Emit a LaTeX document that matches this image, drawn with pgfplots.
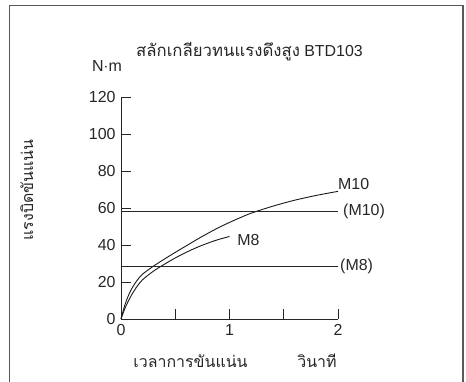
\documentclass[border=0pt]{standalone}
\usepackage{pgfplots}
\pgfplotsset{compat=1.18}
\usepackage{fontspec}
\setmainfont{Liberation Sans}
\newfontfamily\thaifont[Script=Thai]{Loma}
\begin{document}
\fontsize{16}{19}\selectfont
\begin{tikzpicture}[font=\fontsize{16}{19}\selectfont]
\useasboundingbox (0,0) rectangle (466bp,382bp);
\draw[line width=1.2bp, color=black!65] (9.5bp,-2bp) -- (9.5bp,376.5bp) -- (463bp,376.5bp) -- (463bp,-2bp);
\begin{axis}[
  at={(121bp,63bp)}, anchor=south west,
  scale only axis, width=217bp, height=222bp,
  xmin=0, xmax=2, ymin=0, ymax=120,
  axis lines=left, axis line style={-, line width=0.9bp, black!85},
  xtick={0,0.5,1,1.5,2}, xticklabels={0,,1,,2},
  ytick={0,20,40,60,80,100,120},
  tick align=inside, major tick length=10bp,
  every tick/.style={line width=0.9bp, black!85},
  tick label style={font=\fontsize{16}{19}\selectfont, black!85},
  /pgf/number format/assume math mode=true,
  clip=false,
]
% M10
\addplot[line width=0.9bp, black!90, smooth] coordinates {
(0,0) (0.03,6.5) (0.06,11.5) (0.1,16.5) (0.15,21) (0.2,24.3) (0.3,28.6) (0.4,32.4) (0.5,36) (0.6,39.5) (0.7,43) (0.8,46.3) (0.9,49.4) (1.0,52.2) (1.1,54.8) (1.2,57.2) (1.4,61.0) (1.6,64.2) (1.8,66.8) (2.0,69)
};
% M8
\addplot[line width=0.9bp, black!90, smooth] coordinates {
(0,0) (0.03,4.8) (0.06,8.8) (0.1,13.2) (0.15,17.8) (0.2,21.3) (0.3,25.9) (0.4,29.6) (0.5,33) (0.6,36) (0.7,38.7) (0.8,41) (0.9,43) (1.0,44.6)
};
\addplot[line width=0.9bp, black!85] coordinates {(0,58) (2,58)};
\addplot[line width=0.9bp, black!85] coordinates {(0,28.3) (2,28.3)};
\node[anchor=west, inner sep=0pt, black!85] at (axis cs:2,73) {M10};
\node[anchor=west, inner sep=0pt, black!85, xshift=5bp] at (axis cs:2,58) {(M10)};
\node[anchor=west, inner sep=0pt, black!85] at (axis cs:1.07,42.7) {M8};
\node[anchor=west, inner sep=0pt, black!85, xshift=2bp] at (axis cs:2,28.3) {(M8)};
\end{axis}
\node[anchor=base, black!85] at (249.5bp,325bp) {{\thaifont\fontsize{16.8}{19}\selectfont สลักเกลียวทนแรงดึงสูง} BTD103};
\node[anchor=base, black!85] at (107bp,310.5bp) {N$\cdot$m};
\node[anchor=base, rotate=90, black!85] at (33bp,192bp) {\thaifont แรงบิดขันแน่น};
\node[anchor=base, black!85] at (190.5bp,15bp) {\thaifont เวลาการขันแน่น};
\node[anchor=base, black!85] at (317bp,15bp) {\thaifont วินาที};
\end{tikzpicture}
\end{document}
